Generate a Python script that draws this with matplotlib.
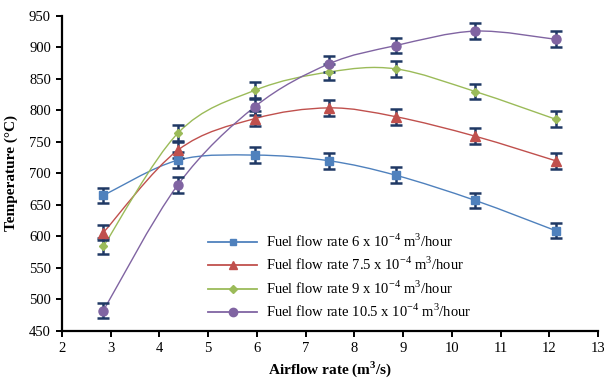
import matplotlib
matplotlib.use('Agg')
import matplotlib.pyplot as plt
from matplotlib.path import Path
from matplotlib.patches import PathPatch
from matplotlib.lines import Line2D

plt.rcParams['font.family'] = ['Liberation Serif', 'DejaVu Serif']
plt.rcParams['mathtext.fontset'] = 'custom'
plt.rcParams['mathtext.rm'] = 'Liberation Serif'
plt.rcParams['mathtext.bf'] = 'Liberation Serif:bold'

# airflow rate (m3/s)
airflow = [2.85, 4.38, 5.96, 7.48, 8.85, 10.48, 12.13]
# temperature (C) for each fuel flow rate
temp_6 = [665, 721, 729, 720, 697, 657, 609]
temp_75 = [606, 737, 787, 804, 790, 759, 720]
temp_9 = [584, 764, 832, 861, 866, 830, 786]
temp_105 = [482, 682, 806, 874, 903, 926, 913]
err = 12.5

labels = [r'Fuel flow rate 6 x 10$^{-4}$ m$^3$/hour',
          r'Fuel flow rate 7.5 x 10$^{-4}$ m$^3$/hour',
          r'Fuel flow rate 9 x 10$^{-4}$ m$^3$/hour',
          r'Fuel flow rate 10.5 x 10$^{-4}$ m$^3$/hour']
colors = ['#4F81BD', '#C0504D', '#9BBB59', '#8064A2']
markers = ['s', '^', 'D', 'o']
msizes = [5.5, 6.5, 4.5, 6.5]
series = [temp_6, temp_75, temp_9, temp_105]


def smooth_path(x, y):
    # excel style smoothed line (catmull-rom bezier)
    pts = list(zip(x, y))
    verts = [pts[0]]
    codes = [Path.MOVETO]
    n = len(pts)
    for i in range(n - 1):
        p0 = pts[max(i - 1, 0)]
        p1 = pts[i]
        p2 = pts[i + 1]
        p3 = pts[min(i + 2, n - 1)]
        c1 = (p1[0] + (p2[0] - p0[0]) / 6, p1[1] + (p2[1] - p0[1]) / 6)
        c2 = (p2[0] - (p3[0] - p1[0]) / 6, p2[1] - (p3[1] - p1[1]) / 6)
        verts += [c1, c2, p2]
        codes += [Path.CURVE4] * 3
    return Path(verts, codes)


fig = plt.figure(figsize=(6.04, 3.81), dpi=100)
ax = fig.add_axes([62 / 604, 1 - 330.7 / 381, 536 / 604, 314.7 / 381])

handles = []
for ys, c, m, ms, lab in zip(series, colors, markers, msizes, labels):
    ax.add_patch(PathPatch(smooth_path(airflow, ys), fill=False, edgecolor=c, lw=1.0, zorder=2))
    ax.errorbar(airflow, ys, yerr=err, fmt='none', ecolor='#1F3864', elinewidth=1.8,
                capsize=4.5, capthick=1.8, zorder=3)
    ax.plot(airflow, ys, linestyle='none', marker=m, markersize=ms, color=c,
            markeredgecolor=c, zorder=4)
    handles.append(Line2D([], [], color=c, lw=1.3, marker=m, markersize=ms - 0.5,
                          markeredgecolor=c))

ax.set_xlim(2, 13)
ax.set_ylim(450, 950)
ax.set_xticks(range(2, 14))
ax.set_yticks(range(450, 951, 50))
ax.spines['top'].set_visible(False)
ax.spines['right'].set_visible(False)
ax.spines['left'].set_linewidth(1.6)
ax.spines['bottom'].set_linewidth(1.6)
ax.tick_params(direction='out', length=4, width=1.4, labelsize=10.5, pad=4)

ax.set_xlabel(r'Airflow rate (m$^\mathbf{3}$/s)', fontsize=11, fontweight='bold', labelpad=3)
ax.set_ylabel('Temperature (°C)', fontsize=11, fontweight='bold', labelpad=8)

ax.legend(handles, labels, loc='upper left', bbox_to_anchor=(140 / 536, 104 / 314.7),
          frameon=False, fontsize=10.5, handlelength=3.4, handletextpad=0.6,
          labelspacing=0.42, borderaxespad=0)

fig.savefig('out.png', dpi=100)
